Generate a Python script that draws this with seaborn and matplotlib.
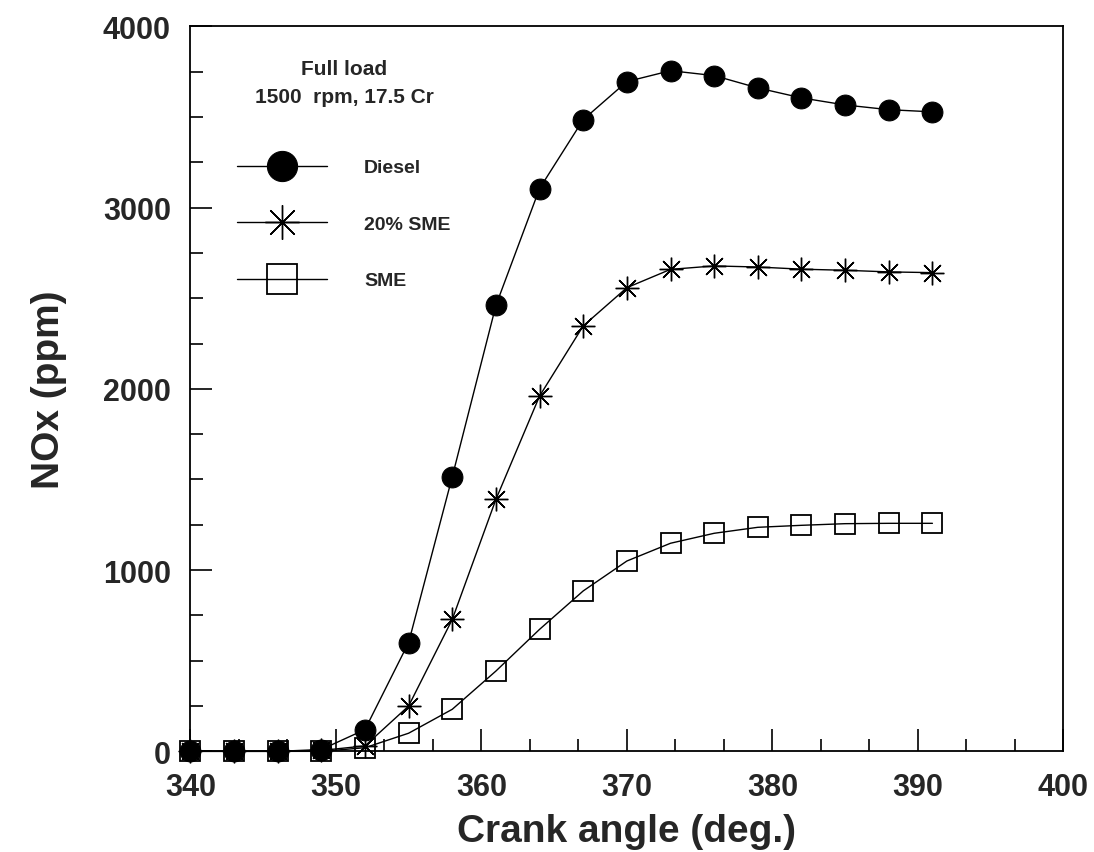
import matplotlib
matplotlib.use("Agg")
import matplotlib.pyplot as plt
import seaborn as sns
import pandas as pd
from matplotlib.ticker import MultipleLocator

crank_angle = [340, 343, 346, 349, 352, 355, 358, 361, 364, 367, 370, 373, 376, 379, 382, 385, 388, 391]
diesel = [0, 0, 0, 10, 120, 600, 1515, 2460, 3105, 3485, 3695, 3755, 3728, 3660, 3605, 3566, 3540, 3528]
sme20 = [0, 0, 0, 5, 30, 250, 728, 1390, 1960, 2347, 2558, 2659, 2678, 2672, 2660, 2654, 2645, 2641]
sme = [0, 0, 0, 0, 20, 100, 232, 443, 673, 885, 1050, 1148, 1203, 1236, 1247, 1256, 1258, 1258]
labels = ["Diesel", "20% SME", "SME"]
legend_title = "Full load\n1500  rpm, 17.5 Cr"
x_ticks = [340, 350, 360, 370, 380, 390, 400]
y_ticks = [0, 1000, 2000, 3000, 4000]

sns.set_theme(style="white")
plt.rcParams["font.family"] = ["Liberation Sans", "DejaVu Sans"]

fig = plt.figure(figsize=(10.94, 8.53), dpi=100)
ax = fig.add_axes([0.174, 0.118, 0.798, 0.850])

df = pd.DataFrame({"x": crank_angle, "diesel": diesel, "sme20": sme20, "sme": sme})

sns.lineplot(data=df, x="x", y="diesel", ax=ax, color="black", lw=1.0,
             marker="o", markersize=15, markerfacecolor="black",
             markeredgecolor="black", label=labels[0], clip_on=False, zorder=3)
sns.lineplot(data=df, x="x", y="sme20", ax=ax, color="black", lw=1.0,
             marker=(8, 2, 0), markersize=17, markeredgewidth=1.0,
             markeredgecolor="black", label=labels[1], clip_on=False, zorder=4)
sns.lineplot(data=df, x="x", y="sme", ax=ax, color="black", lw=1.0,
             marker="s", markersize=15, markerfacecolor="none",
             markeredgewidth=1.3, markeredgecolor="black", label=labels[2],
             clip_on=False, zorder=5)

ax.set_xlim(340, 400)
ax.set_ylim(0, 4000)
ax.set_xticks(x_ticks)
ax.set_yticks(y_ticks)
ax.xaxis.set_minor_locator(MultipleLocator(10 / 3))
ax.yaxis.set_minor_locator(MultipleLocator(250))
ax.tick_params(axis="both", which="major", direction="in", length=16, width=1.2,
               labelsize=22, color="black")
ax.tick_params(axis="x", which="major", pad=15)
ax.tick_params(axis="y", which="major", pad=14)
ax.tick_params(axis="both", which="minor", direction="in", length=9, width=1.2,
               color="black")
ax.tick_params(axis="x", which="both", bottom=True, top=False)
ax.tick_params(axis="y", which="both", left=True, right=False)
for lab in ax.get_xticklabels() + ax.get_yticklabels():
    lab.set_fontweight("bold")

for s in ax.spines.values():
    s.set_visible(True)
    s.set_color("black")
    s.set_linewidth(1.3)

ax.set_xlabel("Crank angle (deg.)", fontsize=28, fontweight="bold", labelpad=8)
ax.set_ylabel("NOx (ppm)", fontsize=28, fontweight="bold", labelpad=26)

leg = ax.legend(title=legend_title, loc="upper left", bbox_to_anchor=(0.054, 0.955),
                frameon=False, fontsize=14, title_fontsize=15, handlelength=4.6,
                handletextpad=1.9, labelspacing=2.0, borderpad=0, borderaxespad=0,
                markerscale=1.45)
leg.get_title().set_fontweight("bold")
leg.get_title().set_multialignment("center")
leg.get_title().set_linespacing(1.6)
for t in leg.get_texts():
    t.set_fontweight("bold")
leg._legend_box.sep = 38

fig.savefig("out.png", dpi=100, facecolor="white")
